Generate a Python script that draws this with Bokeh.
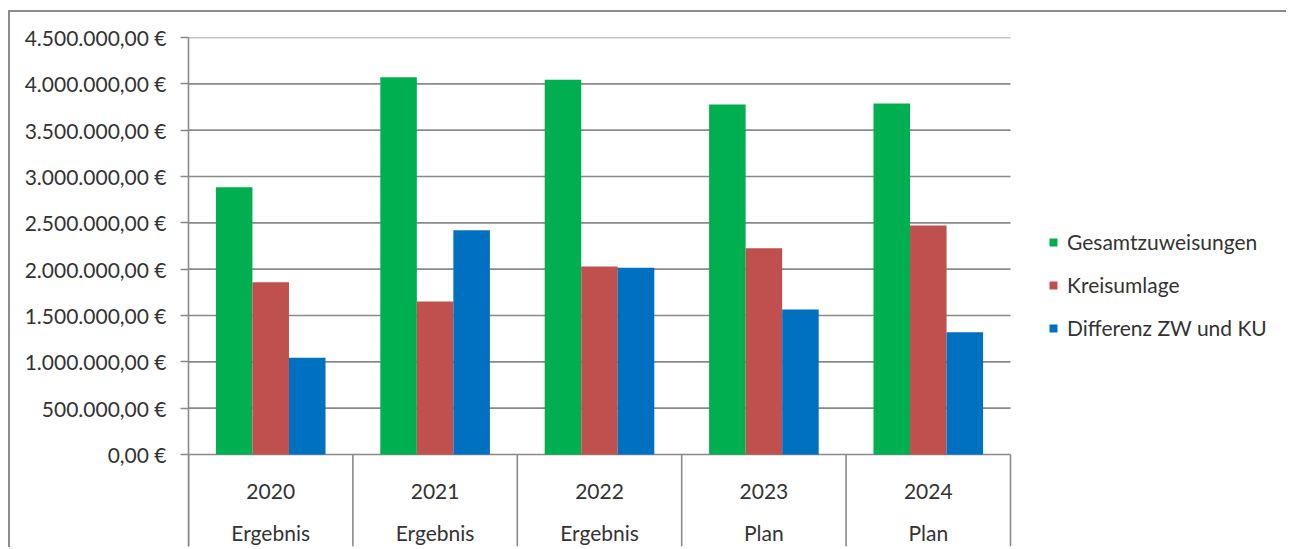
from bokeh.plotting import figure
from bokeh.models import Range1d, FixedTicker, Legend, LegendItem
from bokeh.embed import file_html
from bokeh.resources import INLINE
from bokeh.core.properties import value

# ---- data ----
years = ["2020", "2021", "2022", "2023", "2024"]
kinds = ["Ergebnis", "Ergebnis", "Ergebnis", "Plan", "Plan"]
gesamtzuweisungen = [2885000, 4072000, 4043000, 3777000, 3788000]
kreisumlage = [1859000, 1651000, 2029000, 2227000, 2471000]
differenz = [1043000, 2421000, 2014000, 1565000, 1320000]
series_names = ["Gesamtzuweisungen", "Kreisumlage", "Differenz ZW und KU"]
y_ticks = [0, 500000, 1000000, 1500000, 2000000, 2500000, 3000000, 3500000, 4000000, 4500000]
y_tick_labels = ["0,00 €", "500.000,00 €", "1.000.000,00 €", "1.500.000,00 €", "2.000.000,00 €",
                 "2.500.000,00 €", "3.000.000,00 €", "3.500.000,00 €", "4.000.000,00 €", "4.500.000,00 €"]

# ---- styling / layout ----
FONT = "Lato"
FS = "21px"
TXT = "#333333"
GRID = "#898989"
COLORS = ["#00B050", "#C0504D", "#0070C0"]
W, H = 1278, 537
FL, FT, FB, FR = 178, 25, 3, 0
frame_h = H - FT - FB
frame_w = W - FL - FR
cat_px = 822 / len(years)          # pixel width of one category
ymax = 4500000
plot_px = 417
ppu = plot_px / ymax
ystart = -(frame_h - plot_px) / ppu
xend = frame_w / cat_px
ncat = len(years)

p = figure(width=W, height=H, x_range=Range1d(0, xend), y_range=Range1d(ystart, ymax),
           output_backend="svg", toolbar_location=None, x_axis_location=None,
           min_border_left=FL, min_border_right=FR, min_border_top=FT, min_border_bottom=FB)
p.styles = {"border-top": "2px solid #8c8c8c", "border-left": "2px solid #8c8c8c",
            "margin-top": "10px", "margin-left": "8px"}
p.outline_line_color = None
p.xgrid.visible = False
p.ygrid.visible = False

# horizontal gridlines across the category area only
p.segment(x0=[0] * len(y_ticks), x1=[ncat] * len(y_ticks), y0=y_ticks, y1=y_ticks,
          line_color=GRID, line_width=1.6)

ax = p.yaxis[0]
ax.ticker = FixedTicker(ticks=y_ticks)
ax.major_label_overrides = {t: l for t, l in zip(y_ticks, y_tick_labels)}
ax.major_tick_in = 0
ax.major_tick_out = 8
ax.minor_tick_in = 0
ax.minor_tick_out = 0
ax.major_label_standoff = 14
ax.axis_line_color = GRID
ax.axis_line_width = 1.6
ax.major_tick_line_color = GRID
ax.major_tick_line_width = 1.6
ax.major_label_text_font = FONT
ax.major_label_text_font_size = FS
ax.major_label_text_color = TXT

bw = 1 / 4.5
renderers = []
for j, (vals, col) in enumerate(zip([gesamtzuweisungen, kreisumlage, differenz], COLORS)):
    xs = [i + 0.5 + (j - 1) * bw for i in range(ncat)]
    r = p.vbar(x=xs, top=vals, bottom=0, width=bw, fill_color=col, line_color=None)
    renderers.append(r)

# category separators below the axis
n = ncat + 1
p.segment(x0=list(range(n)), y0=[0] * n, x1=list(range(n)), y1=[ystart] * n,
          line_color=GRID, line_width=1.6)

cx = [i + 0.5 for i in range(ncat)]
p.text(x=cx, y=[-36.7 / ppu] * ncat, text=years, text_align="center", text_baseline="alphabetic",
       text_font=value(FONT), text_font_size=FS, text_color=TXT)
p.text(x=cx, y=[-78 / ppu] * ncat, text=kinds, text_align="center", text_baseline="alphabetic",
       text_font=value(FONT), text_font_size=FS, text_color=TXT)

legend = Legend(items=[LegendItem(label=nm, renderers=[r]) for nm, r in zip(series_names, renderers)],
                location=(860, 206), glyph_width=10, glyph_height=10, label_height=20, spacing=18,
                padding=0, margin=0, border_line_color=None, background_fill_alpha=0,
                label_standoff=9, label_text_font=FONT, label_text_font_size=FS,
                label_text_color=TXT)
p.add_layout(legend)

open("out.html", "w").write(file_html(p, INLINE))
